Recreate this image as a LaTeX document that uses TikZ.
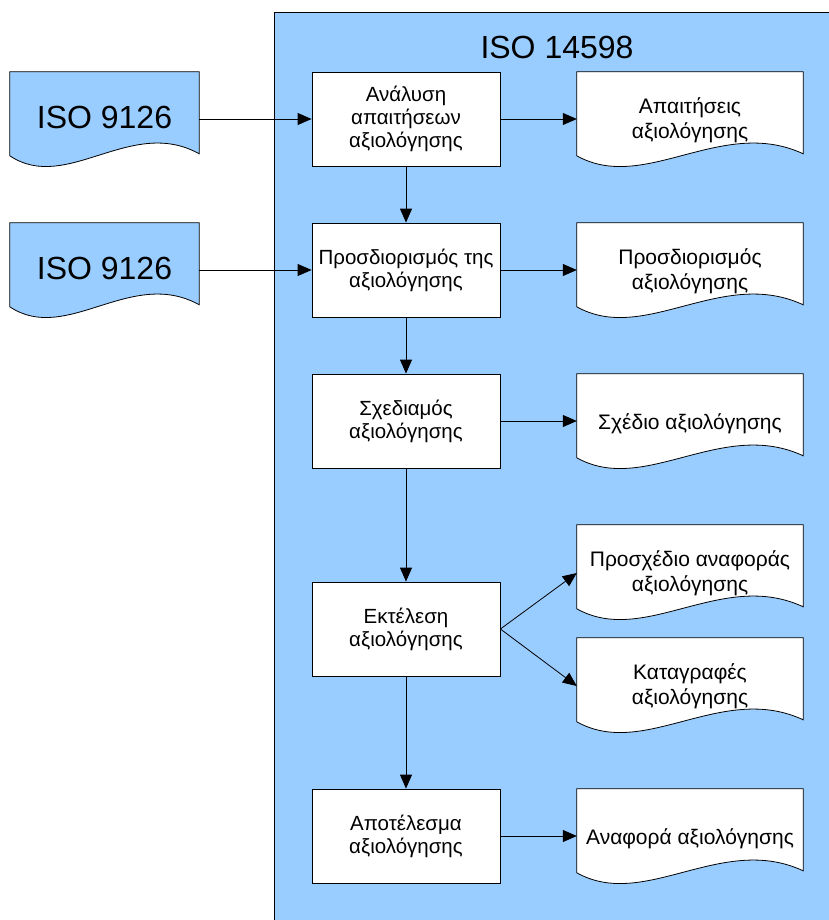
\documentclass[tikz,border=0pt]{standalone}
\usepackage{fontspec}
\setmainfont{Liberation Sans}
\usetikzlibrary{arrows.meta,calc}
\definecolor{panelblue}{HTML}{99CCFF}
\pgfdeclarelayer{back}
\pgfdeclarelayer{docs}
\pgfsetlayers{back,docs,main}

\tikzset{
  procbox/.style={draw=black, line width=0.8pt, fill=white, inner sep=0pt,
    minimum width=188pt, minimum height=94pt, align=center,
    font=\fontsize{20.5}{23}\selectfont},
  docnode/.style={inner sep=0pt, minimum width=226pt, minimum height=96pt,
    align=center, font=\fontsize{21}{25}\selectfont},
  isonode/.style={inner sep=0pt, minimum width=189pt, minimum height=91pt,
    align=center, font=\fontsize{32}{36}\selectfont},
  docline/.style={draw=black, line width=0.8pt},
  flow/.style={draw=black, line width=0.8pt,
    -{Triangle[length=14pt,width=12pt]}},
}

% document symbol under a named node: flat top, wavy bottom
\newcommand\docshape[2]{%
  \path[docline,fill=#2] let \p1=(#1.north west), \p2=(#1.north east),
      \n1={\x2-\x1} in
    (\p1) -- (\p2) -- (\x2,\y1-82pt)
    .. controls (\x1+0.64*\n1,\y1-44pt) and (\x1+0.3*\n1,\y1-122pt) ..
    (\x1,\y1-84pt) -- cycle;}

\begin{document}
\begin{tikzpicture}[x=1pt,y=-1pt]
\useasboundingbox (0,0) rectangle (828,920);

% the ISO 14598 panel
\begin{pgfonlayer}{back}
  \draw[draw=black, line width=0.8pt, fill=panelblue] (274,12) rectangle (850,940);
\end{pgfonlayer}
\node[font=\fontsize{32}{36}\selectfont] (title) at (557,47) {ISO 14598};

% process steps
\node[procbox] (b1) at (406,119) {Ανάλυση\\απαιτήσεων\\αξιολόγησης};
\node[procbox] (b2) at (406,270) {Προσδιορισμός της\\αξιολόγησης};
\node[procbox] (b3) at (406,421) {Σχεδιαμός\\αξιολόγησης};
\node[procbox] (b4) at (406,629) {Εκτέλεση\\αξιολόγησης};
\node[procbox] (b5) at (406,836) {Αποτέλεσμα\\αξιολόγησης};

% input documents
\node[isonode] (l1) at (104.5,117.5) {ISO 9126};
\node[isonode] (l2) at (104.5,268.5) {ISO 9126};

% output documents
\node[docnode] (d1) at (690,120) {Απαιτήσεις\\αξιολόγησης};
\node[docnode] (d2) at (690,271) {Προσδιορισμός\\αξιολόγησης};
\node[docnode, minimum height=100pt] (d3) at (690,424) {Σχέδιο αξιολόγησης};
\node[docnode] (d4) at (690,573) {Προσχέδιο αναφοράς\\αξιολόγησης};
\node[docnode] (d5) at (690,686) {Καταγραφές\\αξιολόγησης};
\node[docnode, minimum height=100pt] (d6) at (690,839) {Αναφορά αξιολόγησης};

\begin{pgfonlayer}{docs}
  \docshape{l1}{panelblue}
  \docshape{l2}{panelblue}
  \docshape{d1}{white}
  \docshape{d2}{white}
  \docshape{d3}{white}
  \docshape{d4}{white}
  \docshape{d5}{white}
  \docshape{d6}{white}
\end{pgfonlayer}

% connectors
\draw[flow] (b1.west -| l1.east) -- (b1.west);
\draw[flow] (b2.west -| l2.east) -- (b2.west);
\draw[flow] (b1.east) -- (b1.east -| d1.west);
\draw[flow] (b2.east) -- (b2.east -| d2.west);
\draw[flow] (b3.east) -- (b3.east -| d3.west);
\draw[flow] (b4.east) -- (d4.west);
\draw[flow] (b4.east) -- (d5.west);
\draw[flow] (b5.east) -- (b5.east -| d6.west);
\draw[flow] (b1.south) -- (b2.north);
\draw[flow] (b2.south) -- (b3.north);
\draw[flow] (b3.south) -- (b4.north);
\draw[flow] (b4.south) -- (b5.north);
\end{tikzpicture}
\end{document}
